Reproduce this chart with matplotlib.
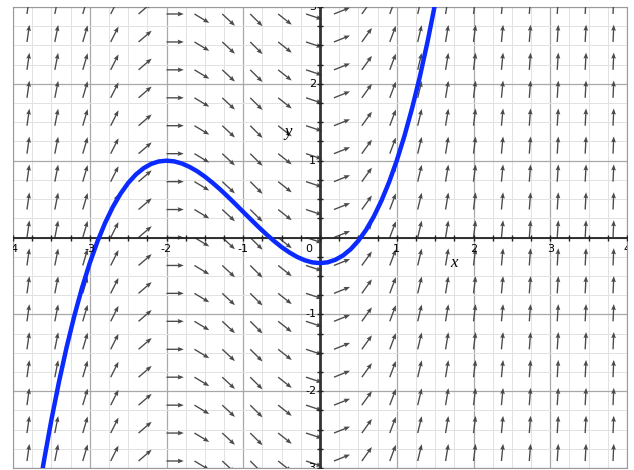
import numpy as np
import matplotlib
matplotlib.use('Agg')
import matplotlib.pyplot as plt

# Колонки та рядки поля напрямків (положення хвостів стрілок)
field_x = [-3.818, -3.455, -3.091, -2.727, -2.364, -2.0, -1.636, -1.273,
           -0.909, -0.545, -0.182, 0.182, 0.545, 0.909, 1.273, 1.636,
           2.0, 2.364, 2.727, 3.091, 3.455, 3.818]
field_y = [-2.909, -2.545, -2.182, -1.818, -1.455, -1.091, -0.727, -0.364,
           0.0, 0.364, 0.727, 1.091, 1.455, 1.818, 2.182, 2.545, 2.909]
# Нахил стрілок у кожній колонці
field_slope = [6.94, 5.03, 3.37, 1.98, 0.86, 0.0, -0.60, -0.93,
               -0.99, -0.79, -0.33, 0.40, 1.39, 2.64, 4.17, 5.95,
               8.0, 10.3, 12.9, 15.7, 18.9, 22.2]

# Синя крива-розв'язок
curve_x = [-3.7, -3.6, -3.5, -3.4, -3.3, -3.2, -3.1, -3.0, -2.9, -2.8,
           -2.7, -2.6, -2.5, -2.4, -2.3, -2.2, -2.1, -2.0, -1.9, -1.8,
           -1.7, -1.6, -1.5, -1.4, -1.3, -1.2, -1.1, -1.0, -0.9, -0.8,
           -0.7, -0.6, -0.5, -0.4, -0.3, -0.2, -0.1, 0.0, 0.1, 0.2,
           0.3, 0.4, 0.5, 0.6, 0.7, 0.8, 0.9, 1.0, 1.1, 1.2,
           1.3, 1.4, 1.5]
curve_y = [-3.527, -2.925, -2.375, -1.874, -1.422, -1.016, -0.653, -0.333, -0.053, 0.190,
           0.396, 0.568, 0.709, 0.819, 0.901, 0.958, 0.990, 1.000, 0.991, 0.963,
           0.919, 0.862, 0.792, 0.712, 0.625, 0.531, 0.433, 0.333, 0.234, 0.136,
           0.043, -0.045, -0.125, -0.194, -0.252, -0.296, -0.324, -0.333, -0.323, -0.290,
           -0.234, -0.152, -0.042, 0.099, 0.271, 0.478, 0.720, 1.000, 1.321, 1.683,
           2.089, 2.542, 3.042]

x_labels = [-4, -3, -2, -1, 0, 1, 2, 3, 4]
y_labels = [-3, -2, -1, 1, 2, 3]

fig = plt.figure(figsize=(6.34, 4.70), dpi=100)
ax = fig.add_axes([13 / 634, 2 / 470, 614 / 634, 461 / 470])
ax.set_xlim(-4, 4)
ax.set_ylim(-3, 3)

# Сітка
ax.set_xticks(np.arange(-4, 5, 1))
ax.set_yticks(np.arange(-3, 4, 1))
ax.set_xticks(np.arange(-4, 4.01, 0.25), minor=True)
ax.set_yticks(np.arange(-3, 3.01, 0.25), minor=True)
ax.grid(which='major', color='#a8a8a8', linewidth=0.9)
ax.grid(which='minor', color='#e2e2e2', linewidth=0.7)
ax.tick_params(which='both', length=0, labelbottom=False, labelleft=False)
for s in ax.spines.values():
    s.set_color('#9a9a9a')
    s.set_linewidth(0.8)

# Поле напрямків
X, Y = np.meshgrid(field_x, field_y)
S = np.tile(field_slope, (len(field_y), 1))
L = 0.225
U = L / np.sqrt(1 + S ** 2)
V = S * U
ax.quiver(X, Y, U, V, angles='xy', scale_units='xy', scale=1, pivot='tail',
          color='#4a4a4a', width=0.0022, headwidth=3.5, headlength=4.5,
          headaxislength=4, zorder=3)

# Осі координат
ax.axhline(0, color='#222222', linewidth=1.3, zorder=4)
ax.axvline(0, color='#333333', linewidth=2.0, zorder=4)
tx = np.arange(-4, 4.01, 0.25)
ty = np.arange(-3, 3.01, 0.25)
ax.plot(tx, np.zeros_like(tx), linestyle='none', marker='|', markersize=5,
        color='#222222', markeredgewidth=1.0, zorder=4)
ax.plot(np.zeros_like(ty), ty, linestyle='none', marker='_', markersize=5,
        color='#222222', markeredgewidth=1.0, zorder=4)

# Крива
ax.plot(curve_x, curve_y, color='#0a2aff', linewidth=3.2, zorder=5,
        solid_capstyle='round')

# Підписи
for v in x_labels:
    if v == 0:
        ax.text(-0.1, -0.09, '0', ha='right', va='top', fontsize=8, zorder=6)
    else:
        ax.text(v, -0.09, str(v), ha='center', va='top', fontsize=8,
                zorder=6, clip_on=True)
for v in y_labels:
    ax.text(-0.05, v, str(v), ha='right', va='center', fontsize=8,
            zorder=6, clip_on=True)

ax.text(1.75, -0.33, 'x', fontsize=12, style='italic',
        family='Liberation Serif', ha='center', va='center', zorder=6)
ax.text(-0.42, 1.37, 'y', fontsize=12, style='italic',
        family='Liberation Serif', ha='center', va='center', zorder=6)

fig.savefig('out.png', dpi=100)
